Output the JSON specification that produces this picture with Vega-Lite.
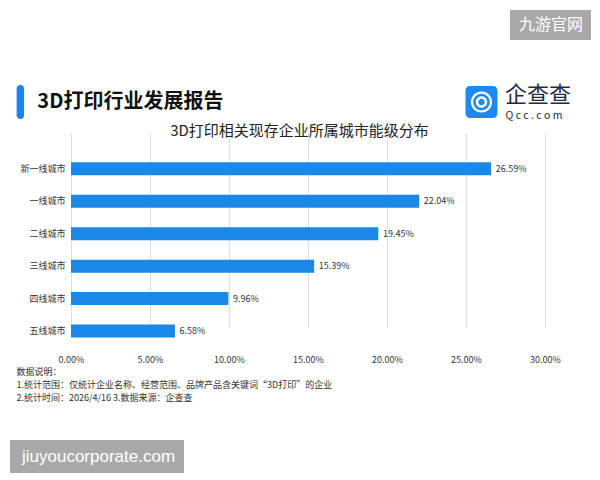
{
  "$schema": "https://vega.github.io/schema/vega-lite/v6.json",
  "width": 600,
  "height": 334,
  "autosize": {"type": "none"},
  "padding": {"left": 0, "right": 0, "top": 73, "bottom": 73},
  "background": "#ffffff",
  "config": {
    "font": "Noto Sans CJK SC",
    "view": {
      "stroke": null,
      "fill": {
        "gradient": "linear",
        "x1": 0, "y1": 0, "x2": 1, "y2": 1,
        "stops": [
          {"offset": 0, "color": "#edf1f8"},
          {"offset": 0.5, "color": "#f2f5fa"},
          {"offset": 1, "color": "#eaf0fa"}
        ]
      }
    }
  },
  "datasets": {
    "cities": [
      {"level": "新一线城市", "share": 0.2659},
      {"level": "一线城市", "share": 0.2204},
      {"level": "二线城市", "share": 0.1945},
      {"level": "三线城市", "share": 0.1539},
      {"level": "四线城市", "share": 0.0996},
      {"level": "五线城市", "share": 0.0658}
    ],
    "heading": [{"item": "3D打印行业发展报告"}],
    "brand": [{"item": "企查查"}],
    "siteTag": [{"item": "九游官网"}],
    "siteUrl": [{"item": "jiuyoucorporate.com"}]
  },
  "layer": [
    {
      "data": {"name": "cities"},
      "mark": {"type": "bar", "color": "#1b87e6"},
      "encoding": {
        "y": {
          "field": "level",
          "type": "nominal",
          "sort": null,
          "scale": {"range": [79.5, 274.3], "paddingInner": 0.6, "paddingOuter": 0.3},
          "axis": {
            "offset": -71,
            "domain": false,
            "ticks": false,
            "tickSize": 0,
            "grid": false,
            "labelPadding": 6,
            "labelFontSize": 9,
            "labelColor": "#333333",
            "title": "Q c c . c o m",
            "titleAngle": 0,
            "titleX": 434,
            "titleY": 42.5,
            "titleAlign": "left",
            "titleBaseline": "middle",
            "titleFontSize": 10.5,
            "titleFontWeight": "normal",
            "titleColor": "#1d2733"
          }
        },
        "x": {
          "field": "share",
          "type": "quantitative",
          "scale": {"domain": [-0.044937, 0.33481], "nice": false, "zero": false},
          "axis": {
            "orient": "bottom",
            "values": [0, 0.05, 0.1, 0.15, 0.2, 0.25, 0.3],
            "format": ".2%",
            "offset": -59.7,
            "grid": true,
            "gridColor": "#dcdfe6",
            "gridWidth": 1,
            "domain": false,
            "ticks": false,
            "tickSize": 0,
            "labelPadding": 8.5,
            "labelFontSize": 9,
            "labelColor": "#333333",
            "labelFlush": false,
            "labelOverlap": false,
            "title": [
              "数据说明：",
              "1.统计范围：仅统计企业名称、经营范围、品牌产品含关键词“3D打印”的企业",
              "2.统计时间：2026/4/16 3.数据来源：企查查"
            ],
            "titleAnchor": "start",
            "titleAlign": "left",
            "titleX": 16,
            "titleY": 20,
            "titleBaseline": "top",
            "titleFontSize": 9,
            "titleFontWeight": "normal",
            "titleColor": "#333333",
            "titleLineHeight": 13.3
          }
        },
        "x2": {"datum": 0}
      }
    },
    {
      "data": {"name": "cities"},
      "mark": {"type": "text", "align": "left", "baseline": "middle", "dx": 4.6, "fontSize": 9, "color": "#333333"},
      "encoding": {
        "y": {"field": "level", "type": "nominal", "sort": null},
        "x": {
          "field": "share",
          "type": "quantitative",
          "axis": {
            "orient": "top",
            "values": [],
            "grid": false,
            "labels": false,
            "ticks": false,
            "domain": false,
            "title": "3D打印相关现存企业所属城市能级分布",
            "titleX": 299,
            "titleY": 57,
            "titleAlign": "center",
            "titleBaseline": "middle",
            "titleFontSize": 15,
            "titleFontWeight": "normal",
            "titleColor": "#222222"
          }
        },
        "text": {"field": "share", "type": "quantitative", "format": ".2%"}
      }
    },
    {
      "data": {"name": "heading"},
      "mark": {"type": "text", "text": ""},
      "encoding": {
        "color": {
          "field": "item",
          "type": "nominal",
          "scale": {"range": ["#1d84ef"]},
          "legend": {
            "orient": "none",
            "legendX": 3.35,
            "legendY": 12,
            "title": null,
            "padding": 0,
            "symbolType": "M-0.22,-0.78A0.22,0.22 0 0,1 0.22,-0.78V0.78A0.22,0.22 0 0,1 -0.22,0.78Z",
            "symbolSize": 1156,
            "symbolStrokeWidth": 0,
            "symbolOpacity": 1,
            "labelOffset": 0,
            "labelLimit": 400,
            "labelFontSize": 20,
            "labelFontWeight": "bold",
            "labelColor": "#111111"
          }
        }
      }
    },
    {
      "data": {"name": "brand"},
      "mark": {"type": "text", "text": ""},
      "encoding": {
        "color": {
          "field": "item",
          "type": "nominal",
          "scale": {"range": ["#1e8af0"]},
          "legend": {
            "orient": "none",
            "legendX": 465.5,
            "legendY": 13,
            "title": null,
            "padding": 0,
            "symbolType": "M-0.72,-1H0.72A0.28,0.28 0 0,1 1,-0.72V0.72A0.28,0.28 0 0,1 0.72,1H-0.72A0.28,0.28 0 0,1 -1,0.72V-0.72A0.28,0.28 0 0,1 -0.72,-1ZM0.66,0A0.66,0.66 0 1,0 -0.66,0A0.66,0.66 0 1,0 0.66,0ZM0.52,0A0.52,0.52 0 1,1 -0.52,0A0.52,0.52 0 1,1 0.52,0ZM0.36,0A0.36,0.36 0 1,0 -0.36,0A0.36,0.36 0 1,0 0.36,0ZM0.2,0A0.2,0.2 0 1,1 -0.2,0A0.2,0.2 0 1,1 0.2,0Z",
            "symbolSize": 1024,
            "symbolStrokeWidth": 0,
            "symbolOpacity": 1,
            "labelOffset": 7.5,
            "labelLimit": 300,
            "labelFontSize": 22,
            "labelBaseline": "alphabetic",
            "labelColor": "#1f2d3d"
          }
        }
      }
    },
    {
      "data": {"name": "siteTag"},
      "mark": {"type": "text", "text": ""},
      "encoding": {
        "color": {
          "field": "item",
          "type": "nominal",
          "scale": {"range": ["#ffffff"]},
          "legend": {
            "orient": "none",
            "legendX": 510,
            "legendY": -63,
            "title": null,
            "padding": 7,
            "fillColor": "#a9a9a9",
            "symbolSize": 1,
            "symbolOpacity": 0,
            "symbolStrokeWidth": 0,
            "labelOffset": -14,
            "labelLimit": 300,
            "labelFontSize": 16,
            "labelColor": "#ffffff"
          }
        }
      }
    },
    {
      "data": {"name": "siteUrl"},
      "mark": {"type": "text", "text": ""},
      "encoding": {
        "color": {
          "field": "item",
          "type": "nominal",
          "scale": {"range": ["#ffffff"]},
          "legend": {
            "orient": "none",
            "legendX": 10,
            "legendY": 367,
            "title": null,
            "padding": 8,
            "fillColor": "#a9a9a9",
            "symbolSize": 1,
            "symbolOpacity": 0,
            "symbolStrokeWidth": 0,
            "labelOffset": -13,
            "labelLimit": 400,
            "labelFont": "Liberation Sans",
            "labelFontSize": 17,
            "labelColor": "#ffffff"
          }
        }
      }
    }
  ],
  "resolve": {"scale": {"color": "independent"}, "axis": {"x": "independent"}}
}
